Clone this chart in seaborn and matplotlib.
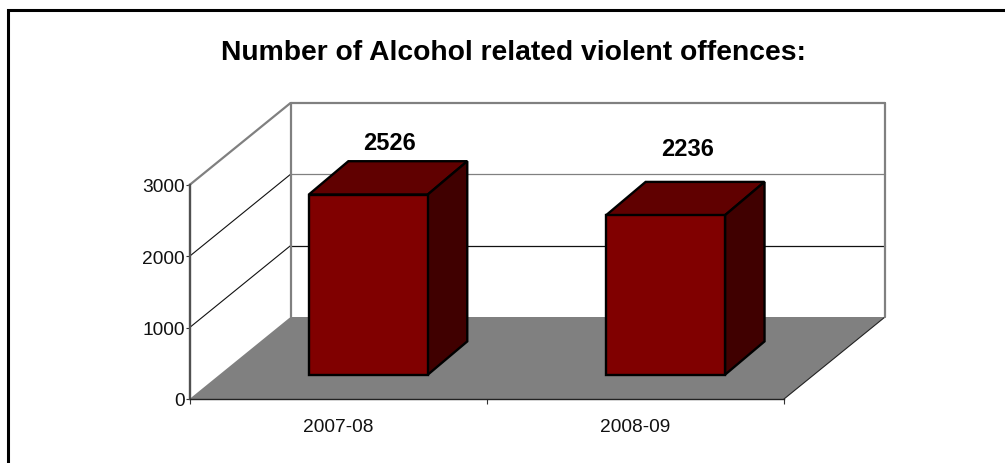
import matplotlib
matplotlib.use("Agg")
import matplotlib.pyplot as plt
from matplotlib.lines import Line2D
from matplotlib.patches import Polygon
from matplotlib.transforms import Affine2D, IdentityTransform
import pandas as pd
import seaborn as sns

periods = ["2007-08", "2008-09"]
offences = [2526, 2236]
y_ticks = [0, 1000, 2000, 3000]
title = "Number of Alcohol related violent offences:"

W, H, DPI = 1005, 464, 100
sns.set_theme(style="white")
plt.rcParams["font.family"] = ["Liberation Sans", "DejaVu Sans"]
tick_size = 13.8

fig = plt.figure(figsize=(W / DPI, H / DPI), dpi=DPI, facecolor="white")
LEFT, RIGHT, BOTTOM, TOP = 189.5, 784.0, 400.0, 186.0
ax = fig.add_axes([LEFT / W, 1 - BOTTOM / H, (RIGHT - LEFT) / W, (BOTTOM - TOP) / H])
ax.patch.set_alpha(0)

df = pd.DataFrame({"period": periods, "offences": offences})
sns.barplot(data=df, x="period", y="offences", width=0.4, color="#800000", saturation=1,
            edgecolor="black", linewidth=1.7, ax=ax, zorder=5)
ax.set_xlim(-0.5, 1.5)
ax.set_ylim(0, 3000)
ax.set_xlabel("")
ax.set_ylabel("")

# oblique projection, display pixels (y up)
DEPTH = (101.0, 82.0)
BAR_NEAR = (30.2, 24.3)
BAR_FAR = (69.7, 57.6)


def pt(x, y, d=(0.0, 0.0)):
    px, py = ax.transData.transform((x, y))
    return (px + d[0], py + d[1])


def poly(points, face, edge="none", lw=0.0, z=1):
    ax.add_patch(Polygon(points, closed=True, facecolor=face, edgecolor=edge, linewidth=lw,
                         transform=IdentityTransform(), clip_on=False, zorder=z, joinstyle="miter"))


def seg(a, b, color, lw, z=2):
    ax.add_line(Line2D([a[0], b[0]], [a[1], b[1]], color=color, linewidth=lw,
                       transform=IdentityTransform(), clip_on=False, zorder=z))


bars = list(ax.patches)

# floor
poly([pt(-0.5, 0), pt(1.5, 0), pt(1.5, 0, DEPTH), pt(-0.5, 0, DEPTH)], "#808080")
seg(pt(1.5, 0), pt(1.5, 0, DEPTH), "#222222", 0.8)

# walls and gridlines
for v in y_ticks[1:]:
    back_col = "#111111" if v == 1000 else "#808080"
    side_col = "#808080" if v == 3000 else "#111111"
    seg(pt(-0.5, v), pt(-0.5, v, DEPTH), side_col, 1.6 if v == 3000 else 0.8)
    seg(pt(-0.5, v, DEPTH), pt(1.5, v, DEPTH), back_col, 1.6 if v == 3000 else 0.9)
seg(pt(-0.5, 0, DEPTH), pt(-0.5, 3000, DEPTH), "#808080", 1.6)
seg(pt(1.5, 0, DEPTH), pt(1.5, 3000, DEPTH), "#808080", 1.6)

# bars: move the seaborn front faces back and add top and side faces
shift = Affine2D().translate(*BAR_NEAR)
for bar in bars:
    x0, w, h = bar.get_x(), bar.get_width(), bar.get_height()
    bar.set_transform(ax.transData + shift)
    bar.set_clip_on(False)
    bar.set_joinstyle("miter")
    poly([pt(x0, h, BAR_NEAR), pt(x0 + w, h, BAR_NEAR), pt(x0 + w, h, BAR_FAR), pt(x0, h, BAR_FAR)],
         "#600000", "black", 1.7, 4)
    poly([pt(x0 + w, 0, BAR_NEAR), pt(x0 + w, h, BAR_NEAR), pt(x0 + w, h, BAR_FAR), pt(x0 + w, 0, BAR_FAR)],
         "#400000", "black", 1.7, 4)

# value labels
label_pos = [(51.0, 76.0), (52.5, 91.0)]
for i, (v, off) in enumerate(zip(offences, label_pos)):
    ax.annotate(str(v), xy=(i, v), xytext=(off[0] * 0.72, off[1] * 0.72), textcoords="offset points",
                ha="center", va="center", fontsize=17, fontweight="bold", color="black",
                annotation_clip=False, zorder=6)

# axes
ax.set_yticks(y_ticks)
ax.set_xticks([-0.5, 0.5, 1.5], ["", "", ""])
ax.set_xticks([0, 1], periods, minor=True)
ax.tick_params(axis="x", which="major", length=3.6, width=0.8, color="#333333", bottom=True)
ax.tick_params(axis="x", which="minor", length=0, pad=14, labelsize=tick_size, labelcolor="#111111", bottom=True)
ax.tick_params(axis="y", length=3, width=0.8, color="#333333", pad=0.5, labelsize=tick_size, labelcolor="#111111", left=True)
for s in ("top", "right"):
    ax.spines[s].set_visible(False)
ax.spines["left"].set_color("#505050")
ax.spines["left"].set_linewidth(1.7)
ax.spines["left"].set_zorder(3)
ax.spines["bottom"].set_color("#222222")
ax.spines["bottom"].set_linewidth(1.0)
ax.spines["bottom"].set_zorder(3)

# title and outer frame
fig.text(513 / W, 1 - 53.5 / H, title, ha="center", va="center", fontsize=20.3, fontweight="bold", color="black")
fig.add_artist(Line2D([7.5 / W, 7.5 / W, 1.0], [0.0, 1 - 11 / H, 1 - 11 / H], color="black",
                      linewidth=2.2, solid_joinstyle="miter", transform=fig.transFigure))

fig.savefig("out.png", dpi=DPI, facecolor="white")
